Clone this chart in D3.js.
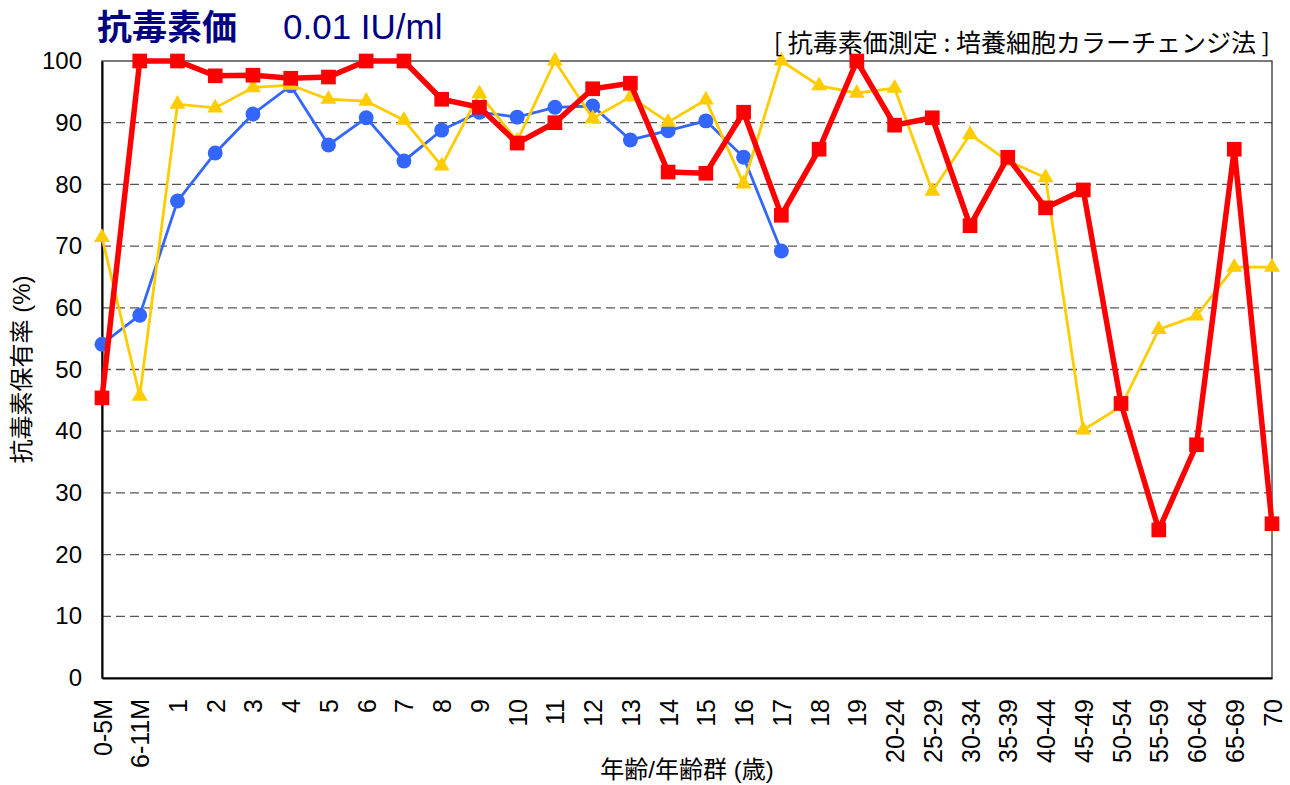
<!DOCTYPE html>
<html>
<head>
<meta charset="utf-8">
<style>
  body { margin: 0; background: #fff; }
  svg text { font-family: "Liberation Sans", Arial, "Noto Sans CJK JP", sans-serif; }
  .grid line { stroke: #555; stroke-dasharray: 9,5; stroke-width: 1.3; }
</style>
</head>
<body>
<svg id="chart" width="1290" height="785"></svg>
<script src="https://d3js.org/d3.v7.min.js"></script>
<script>
var categories = ['0-5M','6-11M','1','2','3','4','5','6','7','8','9','10','11','12','13','14','15','16','17','18','19',
  '20-24','25-29','30-34','35-39','40-44','45-49','50-54','55-59','60-64','65-69','70'];

// blue circles: only up to age 17
var blueValues = [54.1, 58.8, 77.3, 85.1, 91.4, 96.0, 86.4, 90.8, 83.8, 88.8, 91.7, 90.9, 92.5, 92.7, 87.2, 88.7, 90.3, 84.4, 69.2];

var yellowValues = [71.4, 45.7, 93.0, 92.4, 95.7, 96.1, 93.8, 93.5, 90.4, 83.0, 94.7, 87.0, 100, 90.7, 94.2, 90.1, 93.7, 80.1, 100, 96.0, 94.8,
  95.6, 78.9, 88.1, 83.8, 81.1, 40.2, 44.0, 56.5, 58.7, 66.6, 66.6];

var redValues = [45.4, 100, 100, 97.6, 97.7, 97.2, 97.4, 100, 100, 93.8, 92.5, 86.7, 90.0, 95.5, 96.4, 82.0, 81.8, 91.7, 75.0, 85.7, 100,
  89.6, 90.8, 73.3, 84.4, 76.2, 79.1, 44.5, 24.0, 37.8, 85.7, 25.0];

var yTicks = [0, 10, 20, 30, 40, 50, 60, 70, 80, 90, 100];

var margin = {left: 102, right: 18, top: 61, bottom: 107};
var width = 1290, height = 785;

var svg = d3.select('#chart');

var x = d3.scalePoint()
  .domain(categories)
  .range([margin.left, width - margin.right]);

var y = d3.scaleLinear()
  .domain([0, 100])
  .range([height - margin.bottom, margin.top]);

// grid
svg.append('g')
  .attr('class', 'grid')
  .selectAll('line')
  .data(yTicks.filter(d => d > 0 && d < 100))
  .join('line')
  .attr('x1', margin.left)
  .attr('x2', width - margin.right)
  .attr('y1', d => y(d))
  .attr('y2', d => y(d));

// frame
svg.append('rect')
  .attr('x', margin.left)
  .attr('y', margin.top)
  .attr('width', width - margin.right - margin.left)
  .attr('height', height - margin.bottom - margin.top)
  .attr('fill', 'none')
  .attr('stroke', '#222')
  .attr('stroke-width', 1.2);

// y axis
var yAxis = svg.append('g')
  .attr('transform', 'translate(' + margin.left + ',0)')
  .call(d3.axisLeft(y).tickValues(yTicks).tickSize(0).tickPadding(20));
yAxis.select('.domain').attr('stroke', '#000').attr('stroke-width', 2);
yAxis.selectAll('text').attr('font-size', 24).attr('fill', '#000')
  .style('font-family', '"Liberation Sans", Arial, sans-serif');

// x axis
var xAxis = svg.append('g')
  .attr('transform', 'translate(0,' + y(0) + ')')
  .call(d3.axisBottom(x).tickSize(0).tickPadding(0));
xAxis.select('.domain').attr('stroke', '#000').attr('stroke-width', 2);
xAxis.selectAll('text')
  .attr('font-size', 25)
  .attr('fill', '#000')
  .attr('text-anchor', 'end')
  .attr('dy', '0.36em')
  .attr('transform', 'translate(0,21) rotate(-90)')
  .attr('x', 0)
  .attr('y', 0)
  .style('font-family', '"Liberation Sans", Arial, sans-serif');

function drawSeries(values, color, lineWidth, symbolType, symbolSize) {
  var data = values.map((v, i) => ({c: categories[i], v: v}));
  var line = d3.line().x(d => x(d.c)).y(d => y(d.v));
  svg.append('path')
    .datum(data)
    .attr('d', line)
    .attr('fill', 'none')
    .attr('stroke', color)
    .attr('stroke-width', lineWidth)
    .attr('stroke-linejoin', 'miter');
  svg.append('g')
    .selectAll('path')
    .data(data)
    .join('path')
    .attr('d', d3.symbol().type(symbolType).size(symbolSize))
    .attr('transform', d => 'translate(' + x(d.c) + ',' + y(d.v) + ')')
    .attr('fill', color);
}

drawSeries(blueValues, '#3366ff', 2.8, d3.symbolCircle, 175);
drawSeries(yellowValues, '#ffcc00', 2.8, d3.symbolTriangle, 110);
drawSeries(redValues, '#ff0000', 5.5, d3.symbolSquare, 215);

// titles
svg.append('text')
  .attr('x', 97).attr('y', 40)
  .attr('font-size', 35).attr('font-weight', 'bold').attr('fill', '#000080')
  .style('font-family', '"Noto Sans CJK JP", sans-serif')
  .text('抗毒素価');

svg.append('text')
  .attr('x', 283).attr('y', 39)
  .attr('font-size', 35).attr('fill', '#000080')
  .text('0.01 IU/ml');

svg.append('text')
  .attr('x', 1270).attr('y', 52)
  .attr('text-anchor', 'end')
  .attr('font-size', 25).attr('fill', '#000')
  .style('font-family', '"Noto Sans CJK JP", sans-serif')
  .text('[ 抗毒素価測定 : 培養細胞カラーチェンジ法 ]');

svg.append('text')
  .attr('transform', 'translate(30,' + ((margin.top + height - margin.bottom) / 2) + ') rotate(-90)')
  .attr('text-anchor', 'middle')
  .attr('font-size', 24).attr('fill', '#000')
  .text('抗毒素保有率 (%)');

svg.append('text')
  .attr('x', 687).attr('y', 778)
  .attr('text-anchor', 'middle')
  .attr('font-size', 24).attr('fill', '#000')
  .text('年齢/年齢群 (歳)');
</script>
</body>
</html>
